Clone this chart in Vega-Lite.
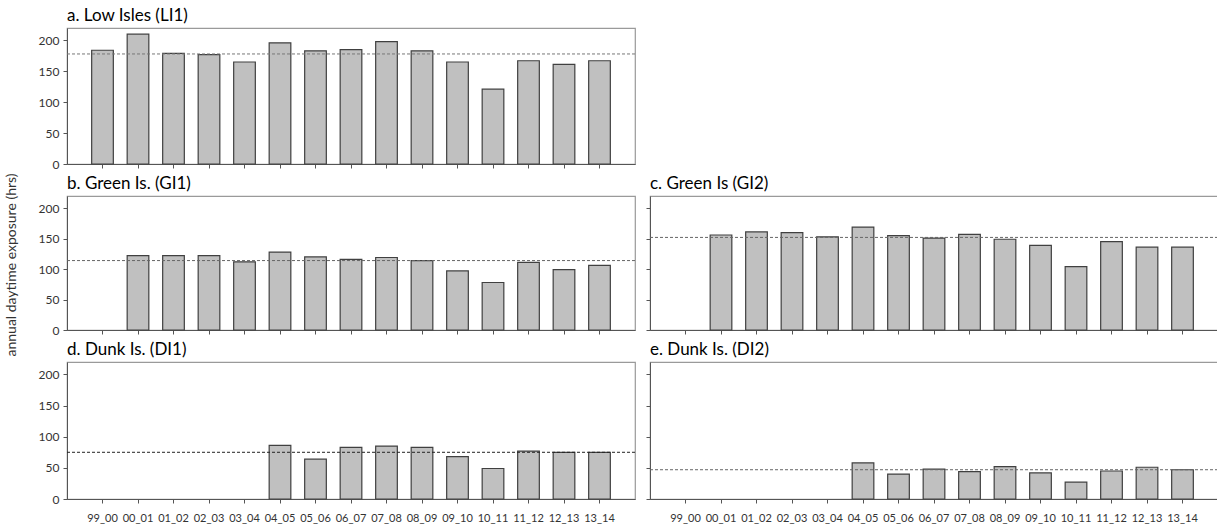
{
  "$schema": "https://vega.github.io/schema/vega-lite/v6.json",
  "padding": {"left": 4, "top": 6, "right": 0, "bottom": 0},
  "background": "white",
  "title": {"text": "annual daytime exposure (hrs)", "orient": "left", "anchor": "middle", "frame": "bounds", "fontSize": 14, "fontWeight": "normal", "color": "#333", "offset": 5, "baseline": "bottom"},
  "bounds": "flush",
  "align": "each",
  "columns": 2,
  "spacing": {"row": 32, "column": 15},
  "datasets": {
    "bars": [
      {"panel": "a", "season": "99_00", "hrs": 184},
      {"panel": "a", "season": "00_01", "hrs": 210},
      {"panel": "a", "season": "01_02", "hrs": 179},
      {"panel": "a", "season": "02_03", "hrs": 177},
      {"panel": "a", "season": "03_04", "hrs": 165},
      {"panel": "a", "season": "04_05", "hrs": 196},
      {"panel": "a", "season": "05_06", "hrs": 183},
      {"panel": "a", "season": "06_07", "hrs": 185},
      {"panel": "a", "season": "07_08", "hrs": 198},
      {"panel": "a", "season": "08_09", "hrs": 183},
      {"panel": "a", "season": "09_10", "hrs": 165},
      {"panel": "a", "season": "10_11", "hrs": 121},
      {"panel": "a", "season": "11_12", "hrs": 167},
      {"panel": "a", "season": "12_13", "hrs": 161},
      {"panel": "a", "season": "13_14", "hrs": 167},
      {"panel": "b", "season": "00_01", "hrs": 122},
      {"panel": "b", "season": "01_02", "hrs": 122},
      {"panel": "b", "season": "02_03", "hrs": 122},
      {"panel": "b", "season": "03_04", "hrs": 112},
      {"panel": "b", "season": "04_05", "hrs": 128},
      {"panel": "b", "season": "05_06", "hrs": 120},
      {"panel": "b", "season": "06_07", "hrs": 116},
      {"panel": "b", "season": "07_08", "hrs": 119},
      {"panel": "b", "season": "08_09", "hrs": 114},
      {"panel": "b", "season": "09_10", "hrs": 97},
      {"panel": "b", "season": "10_11", "hrs": 78},
      {"panel": "b", "season": "11_12", "hrs": 111},
      {"panel": "b", "season": "12_13", "hrs": 99},
      {"panel": "b", "season": "13_14", "hrs": 106},
      {"panel": "c", "season": "00_01", "hrs": 156},
      {"panel": "c", "season": "01_02", "hrs": 161},
      {"panel": "c", "season": "02_03", "hrs": 160},
      {"panel": "c", "season": "03_04", "hrs": 153},
      {"panel": "c", "season": "04_05", "hrs": 169},
      {"panel": "c", "season": "05_06", "hrs": 155},
      {"panel": "c", "season": "06_07", "hrs": 151},
      {"panel": "c", "season": "07_08", "hrs": 157},
      {"panel": "c", "season": "08_09", "hrs": 149},
      {"panel": "c", "season": "09_10", "hrs": 139},
      {"panel": "c", "season": "10_11", "hrs": 104},
      {"panel": "c", "season": "11_12", "hrs": 145},
      {"panel": "c", "season": "12_13", "hrs": 136},
      {"panel": "c", "season": "13_14", "hrs": 136},
      {"panel": "d", "season": "04_05", "hrs": 86},
      {"panel": "d", "season": "05_06", "hrs": 64},
      {"panel": "d", "season": "06_07", "hrs": 83},
      {"panel": "d", "season": "07_08", "hrs": 85},
      {"panel": "d", "season": "08_09", "hrs": 83},
      {"panel": "d", "season": "09_10", "hrs": 68},
      {"panel": "d", "season": "10_11", "hrs": 49},
      {"panel": "d", "season": "11_12", "hrs": 77},
      {"panel": "d", "season": "12_13", "hrs": 75},
      {"panel": "d", "season": "13_14", "hrs": 75},
      {"panel": "e", "season": "04_05", "hrs": 58},
      {"panel": "e", "season": "05_06", "hrs": 40},
      {"panel": "e", "season": "06_07", "hrs": 48},
      {"panel": "e", "season": "07_08", "hrs": 44},
      {"panel": "e", "season": "08_09", "hrs": 52},
      {"panel": "e", "season": "09_10", "hrs": 42},
      {"panel": "e", "season": "10_11", "hrs": 27},
      {"panel": "e", "season": "11_12", "hrs": 45},
      {"panel": "e", "season": "12_13", "hrs": 51},
      {"panel": "e", "season": "13_14", "hrs": 47}
    ],
    "means": [
      {"panel": "a", "mean": 178},
      {"panel": "b", "mean": 114},
      {"panel": "c", "mean": 152},
      {"panel": "d", "mean": 75},
      {"panel": "e", "mean": 47}
    ]
  },
  "concat": [
    {
      "width": 568, "height": 136,
      "title": {"text": "a. Low Isles (LI1)"},
      "layer": [
        {
          "data": {"name": "bars"},
          "transform": [{"filter": "datum.panel == 'a'"}],
          "mark": {"type": "bar", "fill": "#c0c0c0", "stroke": "#404040", "strokeWidth": 1.2},
          "encoding": {
            "x": {"field": "season", "type": "nominal", "sort": null,
              "scale": {"domain": ["99_00","00_01","01_02","02_03","03_04","04_05","05_06","06_07","07_08","08_09","09_10","10_11","11_12","12_13","13_14"], "paddingInner": 0.39, "paddingOuter": 0.695},
              "axis": {"title": null, "labels": false}},
            "y": {"field": "hrs", "type": "quantitative", "scale": {"domain": [0, 220], "nice": false},
              "axis": {"title": null, "values": [0, 50, 100, 150, 200]}}
          }
        },
        {
          "data": {"name": "means"},
          "transform": [{"filter": "datum.panel == 'a'"}],
          "mark": {"type": "rule", "strokeDash": [3, 2], "color": "#777", "strokeWidth": 1},
          "encoding": {"y": {"field": "mean", "type": "quantitative", "axis": {"title": null, "values": [0, 50, 100, 150, 200]}}}
        }
      ]
    },
    {
      "width": 568, "height": 136,
      "data": {"values": []},
      "mark": {"type": "point"},
      "encoding": {},
      "view": {"stroke": null}
    },
    {
      "width": 568, "height": 134,
      "title": {"text": "b. Green Is. (GI1)"},
      "layer": [
        {
          "data": {"name": "bars"},
          "transform": [{"filter": "datum.panel == 'b'"}],
          "mark": {"type": "bar", "fill": "#c0c0c0", "stroke": "#404040", "strokeWidth": 1.2},
          "encoding": {
            "x": {"field": "season", "type": "nominal", "sort": null,
              "scale": {"domain": ["99_00","00_01","01_02","02_03","03_04","04_05","05_06","06_07","07_08","08_09","09_10","10_11","11_12","12_13","13_14"], "paddingInner": 0.39, "paddingOuter": 0.695},
              "axis": {"title": null, "labels": false}},
            "y": {"field": "hrs", "type": "quantitative", "scale": {"domain": [0, 220], "nice": false},
              "axis": {"title": null, "values": [0, 50, 100, 150, 200]}}
          }
        },
        {
          "data": {"name": "means"},
          "transform": [{"filter": "datum.panel == 'b'"}],
          "mark": {"type": "rule", "strokeDash": [3, 2], "color": "#666", "strokeWidth": 1},
          "encoding": {"y": {"field": "mean", "type": "quantitative", "axis": {"title": null, "values": [0, 50, 100, 150, 200]}}}
        }
      ]
    },
    {
      "width": 568, "height": 134,
      "title": {"text": "c. Green Is (GI2)"},
      "layer": [
        {
          "data": {"name": "bars"},
          "transform": [{"filter": "datum.panel == 'c'"}],
          "mark": {"type": "bar", "fill": "#c0c0c0", "stroke": "#404040", "strokeWidth": 1.2},
          "encoding": {
            "x": {"field": "season", "type": "nominal", "sort": null,
              "scale": {"domain": ["99_00","00_01","01_02","02_03","03_04","04_05","05_06","06_07","07_08","08_09","09_10","10_11","11_12","12_13","13_14"], "paddingInner": 0.39, "paddingOuter": 0.695},
              "axis": {"title": null, "labels": false}},
            "y": {"field": "hrs", "type": "quantitative", "scale": {"domain": [0, 220], "nice": false},
              "axis": {"title": null, "labels": false, "values": [0, 50, 100, 150, 200]}}
          }
        },
        {
          "data": {"name": "means"},
          "transform": [{"filter": "datum.panel == 'c'"}],
          "mark": {"type": "rule", "strokeDash": [3, 2], "color": "#666", "strokeWidth": 1},
          "encoding": {"y": {"field": "mean", "type": "quantitative", "axis": {"title": null, "labels": false, "values": [0, 50, 100, 150, 200]}}}
        }
      ]
    },
    {
      "width": 568, "height": 137,
      "title": {"text": "d. Dunk Is. (DI1)"},
      "layer": [
        {
          "data": {"name": "bars"},
          "transform": [{"filter": "datum.panel == 'd'"}],
          "mark": {"type": "bar", "fill": "#c0c0c0", "stroke": "#404040", "strokeWidth": 1.2},
          "encoding": {
            "x": {"field": "season", "type": "nominal", "sort": null,
              "scale": {"domain": ["99_00","00_01","01_02","02_03","03_04","04_05","05_06","06_07","07_08","08_09","09_10","10_11","11_12","12_13","13_14"], "paddingInner": 0.39, "paddingOuter": 0.695},
              "axis": {"title": null, "labelAngle": 0, "labelPadding": 9, "labelFontSize": 11}},
            "y": {"field": "hrs", "type": "quantitative", "scale": {"domain": [0, 220], "nice": false},
              "axis": {"title": null, "values": [0, 50, 100, 150, 200]}}
          }
        },
        {
          "data": {"name": "means"},
          "transform": [{"filter": "datum.panel == 'd'"}],
          "mark": {"type": "rule", "strokeDash": [3, 2], "color": "#222", "strokeWidth": 1},
          "encoding": {"y": {"field": "mean", "type": "quantitative", "axis": {"title": null, "values": [0, 50, 100, 150, 200]}}}
        }
      ]
    },
    {
      "width": 568, "height": 137,
      "title": {"text": "e. Dunk Is. (DI2)"},
      "layer": [
        {
          "data": {"name": "bars"},
          "transform": [{"filter": "datum.panel == 'e'"}],
          "mark": {"type": "bar", "fill": "#c0c0c0", "stroke": "#404040", "strokeWidth": 1.2},
          "encoding": {
            "x": {"field": "season", "type": "nominal", "sort": null,
              "scale": {"domain": ["99_00","00_01","01_02","02_03","03_04","04_05","05_06","06_07","07_08","08_09","09_10","10_11","11_12","12_13","13_14"], "paddingInner": 0.39, "paddingOuter": 0.695},
              "axis": {"title": null, "labelAngle": 0, "labelPadding": 9, "labelFontSize": 11}},
            "y": {"field": "hrs", "type": "quantitative", "scale": {"domain": [0, 220], "nice": false},
              "axis": {"title": null, "labels": false, "values": [0, 50, 100, 150, 200]}}
          }
        },
        {
          "data": {"name": "means"},
          "transform": [{"filter": "datum.panel == 'e'"}],
          "mark": {"type": "rule", "strokeDash": [3, 2], "color": "#666", "strokeWidth": 1},
          "encoding": {"y": {"field": "mean", "type": "quantitative", "axis": {"title": null, "labels": false, "values": [0, 50, 100, 150, 200]}}}
        }
      ]
    }
  ],
  "config": {
    "font": "Lato",
    "view": {"stroke": "#9a9a9a", "strokeWidth": 1.2},
    "axis": {"grid": false, "domainColor": "#555", "tickColor": "#555", "tickSize": 4, "labelFont": "Lato", "labelFontSize": 12, "labelColor": "#333", "labelOverlap": false, "titleFont": "Lato", "titleFontSize": 12.5, "titleFontWeight": "normal", "titleColor": "#333", "labelPadding": 4},
    "title": {"font": "Lato", "fontSize": 17, "fontWeight": "normal", "anchor": "start", "frame": "group", "color": "#000", "offset": 3, "baseline": "alphabetic"}
  }
}
